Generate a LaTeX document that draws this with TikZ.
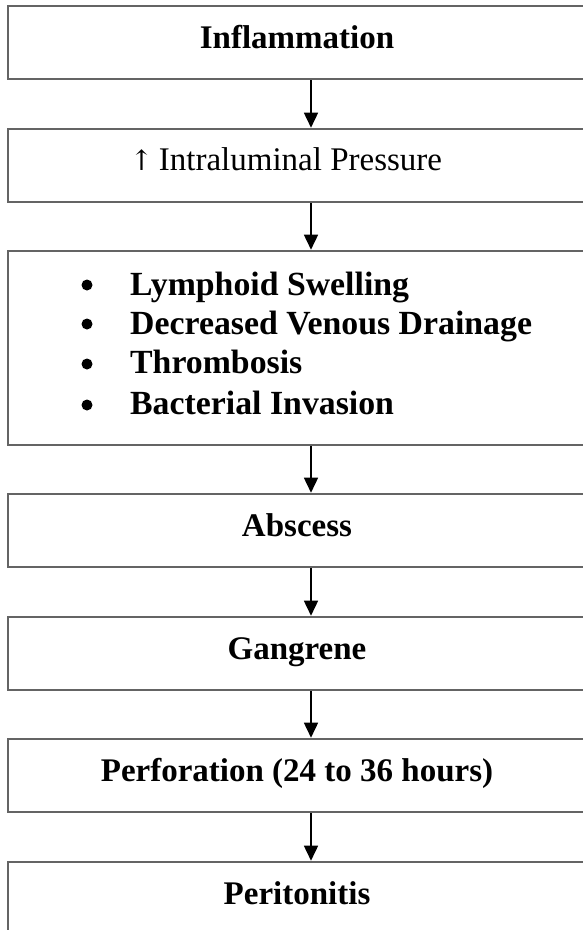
\documentclass[tikz,border=0pt]{standalone}
\usepackage{fontspec}
\setmainfont{Liberation Serif}
\newfontfamily\arrowfont{DejaVu Serif}
\usetikzlibrary{arrows.meta}
\definecolor{boxline}{RGB}{100,100,100}
\tikzset{
  stepbox/.style={draw=boxline, line width=2.6pt, minimum width=578pt, inner sep=0pt},
  boxtext/.style={anchor=base, inner sep=0pt, font=\fontsize{33}{40}\selectfont\bfseries},
  listtext/.style={anchor=base west, inner sep=0pt, font=\fontsize{33.8}{40}\selectfont\bfseries},
  dot/.style={circle, fill=black, minimum size=11pt, inner sep=0pt},
  flow/.style={line width=1.6pt, -{Triangle[width=14pt,length=15pt]}}
}
\begin{document}
\begin{tikzpicture}[x=1pt,y=-1pt]
\useasboundingbox (0,0) rectangle (583,930);
\clip (0,0) rectangle (583,930);
\fill[white] (0,0) rectangle (583,930);
% boxes
\node[stepbox, minimum height=73pt] (b1) at (297,42.5) {};
\node[stepbox, minimum height=73pt] (b2) at (297,165.5) {};
\node[stepbox, minimum height=194pt] (b3) at (297,348) {};
\node[stepbox, minimum height=73pt] (b4) at (297,530.5) {};
\node[stepbox, minimum height=73pt] (b5) at (297,653.5) {};
\node[stepbox, minimum height=73pt] (b6) at (297,775.5) {};
\node[stepbox, minimum height=73pt] (b7) at (297,898.5) {};
% texts
\node[boxtext] (t1) at (297,48) {Inflammation};
\node[boxtext, font=\fontsize{33}{40}\selectfont] (t2) at (286,170) {{\arrowfont\fontsize{28}{40}\selectfont ↑}\,Intraluminal Pressure};
\node[boxtext] (t4) at (297,536) {Abscess};
\node[boxtext] (t5) at (297,659) {Gangrene};
\node[boxtext] (t6) at (297,781) {Perforation (24 to 36 hours)};
\node[boxtext] (t7) at (297,904) {Peritonitis};
% list
\node[dot] (d1) at (87,285) {};
\node[dot] (d2) at (87,324) {};
\node[dot] (d3) at (87,364) {};
\node[dot] (d4) at (87,405) {};
\node[listtext] (l1) at (130,295) {Lymphoid Swelling};
\node[listtext] (l2) at (130,334) {Decreased Venous Drainage};
\node[listtext] (l3) at (130,373) {Thrombosis};
\node[listtext] (l4) at (130,414) {Bacterial Invasion};
% arrows
\draw[flow] (b1.south -| 311,0) -- (b2.north -| 311,0);
\draw[flow] (b2.south -| 311,0) -- (b3.north -| 311,0);
\draw[flow] (b3.south -| 311,0) -- (b4.north -| 311,0);
\draw[flow] (b4.south -| 311,0) -- (b5.north -| 311,0);
\draw[flow] (b5.south -| 311,0) -- (b6.north -| 311,0);
\draw[flow] (b6.south -| 311,0) -- (b7.north -| 311,0);
\end{tikzpicture}
\end{document}
